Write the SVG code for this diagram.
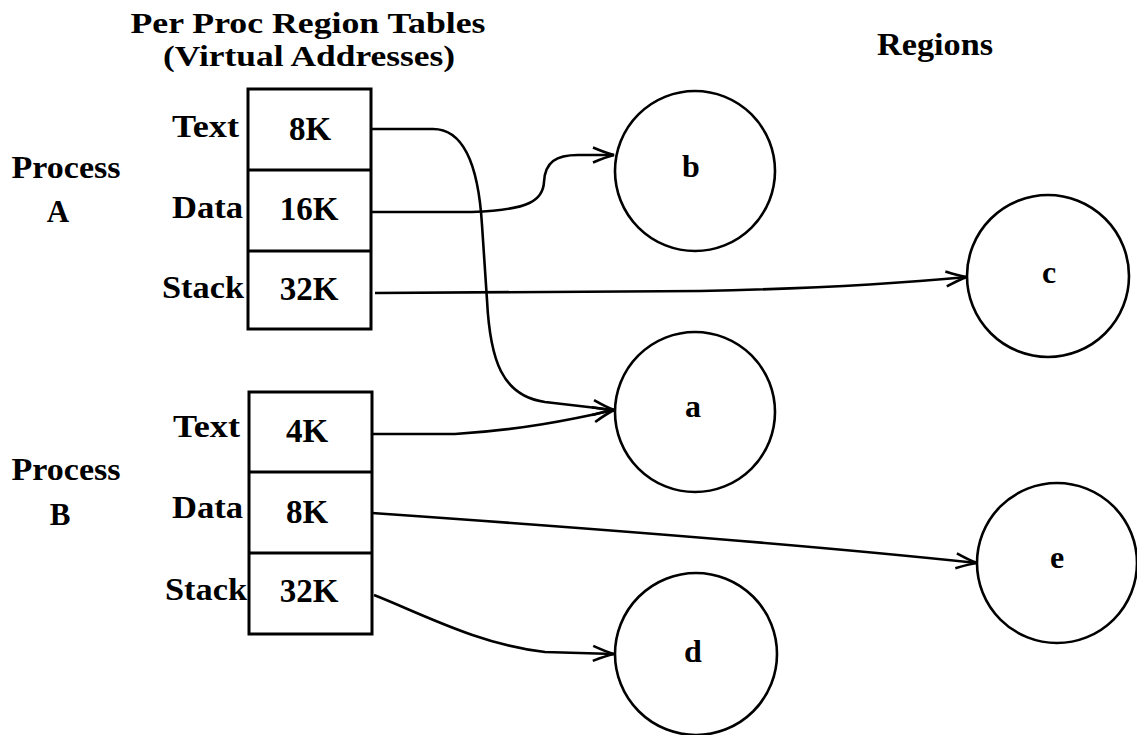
<svg xmlns="http://www.w3.org/2000/svg" width="1137" height="735" viewBox="0 0 1137 735">
<defs>
<style>
text{font-family:"Liberation Serif","Times New Roman",serif;font-weight:bold;fill:#000;font-size:31px}
.ttl{font-size:29px}
.val{font-size:33px}
.reg{font-size:32px}
.box{fill:none;stroke:#000;stroke-width:3}
.circ{fill:none;stroke:#000;stroke-width:2.6}
.conn{fill:none;stroke:#000;stroke-width:2.6;marker-end:url(#arr)}
.lbl{text-anchor:end}
.mid{text-anchor:middle}
</style>
<marker id="arr" viewBox="-24 -10 26 20" markerWidth="26" markerHeight="20" refX="0" refY="0" orient="auto" markerUnits="userSpaceOnUse">
<path d="M-21,-7.5 Q-8,-2 0,0 Q-8,2 -21,7.5" fill="none" stroke="#000" stroke-width="2.6"/>
</marker>
</defs>
<rect width="1137" height="735" fill="#fff"/>
<g id="titles">
<text class="mid ttl" x="308" y="33" textLength="355" lengthAdjust="spacingAndGlyphs">Per Proc Region Tables</text>
<text class="mid ttl" x="309" y="66" textLength="292" lengthAdjust="spacingAndGlyphs">(Virtual Addresses)</text>
<text class="mid" x="935" y="55" textLength="116" lengthAdjust="spacingAndGlyphs">Regions</text>
</g>
<g id="processA">
<text class="mid" x="66" y="178" textLength="109" lengthAdjust="spacingAndGlyphs">Process</text>
<text class="mid" x="58" y="222">A</text>
<rect class="box" x="248" y="89" width="123" height="240"/>
<line class="box" x1="248" y1="170" x2="371" y2="170"/>
<line class="box" x1="248" y1="251" x2="371" y2="251"/>
<text class="lbl" x="239" y="137" textLength="67" lengthAdjust="spacingAndGlyphs">Text</text>
<text class="lbl" x="243" y="218" textLength="71" lengthAdjust="spacingAndGlyphs">Data</text>
<text class="lbl" x="244" y="298" textLength="82" lengthAdjust="spacingAndGlyphs">Stack</text>
<text class="mid val" x="310" y="140">8K</text>
<text class="mid val" x="309" y="220">16K</text>
<text class="mid val" x="309" y="300">32K</text>
</g>
<g id="processB">
<text class="mid" x="66" y="480" textLength="109" lengthAdjust="spacingAndGlyphs">Process</text>
<text class="mid" x="60" y="525">B</text>
<rect class="box" x="249" y="392" width="123" height="242"/>
<line class="box" x1="249" y1="472" x2="372" y2="472"/>
<line class="box" x1="249" y1="553" x2="372" y2="553"/>
<text class="lbl" x="240" y="437" textLength="67" lengthAdjust="spacingAndGlyphs">Text</text>
<text class="lbl" x="243" y="518" textLength="71" lengthAdjust="spacingAndGlyphs">Data</text>
<text class="lbl" x="247" y="600" textLength="82" lengthAdjust="spacingAndGlyphs">Stack</text>
<text class="mid val" x="307" y="442">4K</text>
<text class="mid val" x="307" y="523">8K</text>
<text class="mid val" x="309" y="602">32K</text>
</g>
<g id="region-b"><circle class="circ" cx="695" cy="171" r="80"/><text class="mid reg" x="691" y="177">b</text></g>
<g id="region-a"><circle class="circ" cx="695" cy="412" r="80"/><text class="mid reg" x="693" y="417">a</text></g>
<g id="region-c"><circle class="circ" cx="1048" cy="276" r="81"/><text class="mid reg" x="1049" y="283">c</text></g>
<g id="region-e"><circle class="circ" cx="1057" cy="563" r="80"/><text class="mid reg" x="1057" y="568">e</text></g>
<g id="region-d"><circle class="circ" cx="696" cy="654" r="81"/><text class="mid reg" x="693" y="662">d</text></g>
<g id="connectors">
<path class="conn" d="M372,129 L433,129 C468,129 479,175 482,225 L487,300 C490,360 502,396 545,402 L614,410"/>
<path class="conn" d="M372,212 L472,212 C530,210 543,200 544,182 C545,162 556,155 578,155 L614,155"/>
<path class="conn" d="M375,293 L700,291 Q850,288 967,277"/>
<path class="conn" d="M372,434 L455,434 C520,430 570,420 614,410"/>
<path class="conn" d="M372,513 Q760,540 977,563"/>
<path class="conn" d="M374,595 C420,613 480,645 545,652 L614,654"/>
</g>
</svg>
